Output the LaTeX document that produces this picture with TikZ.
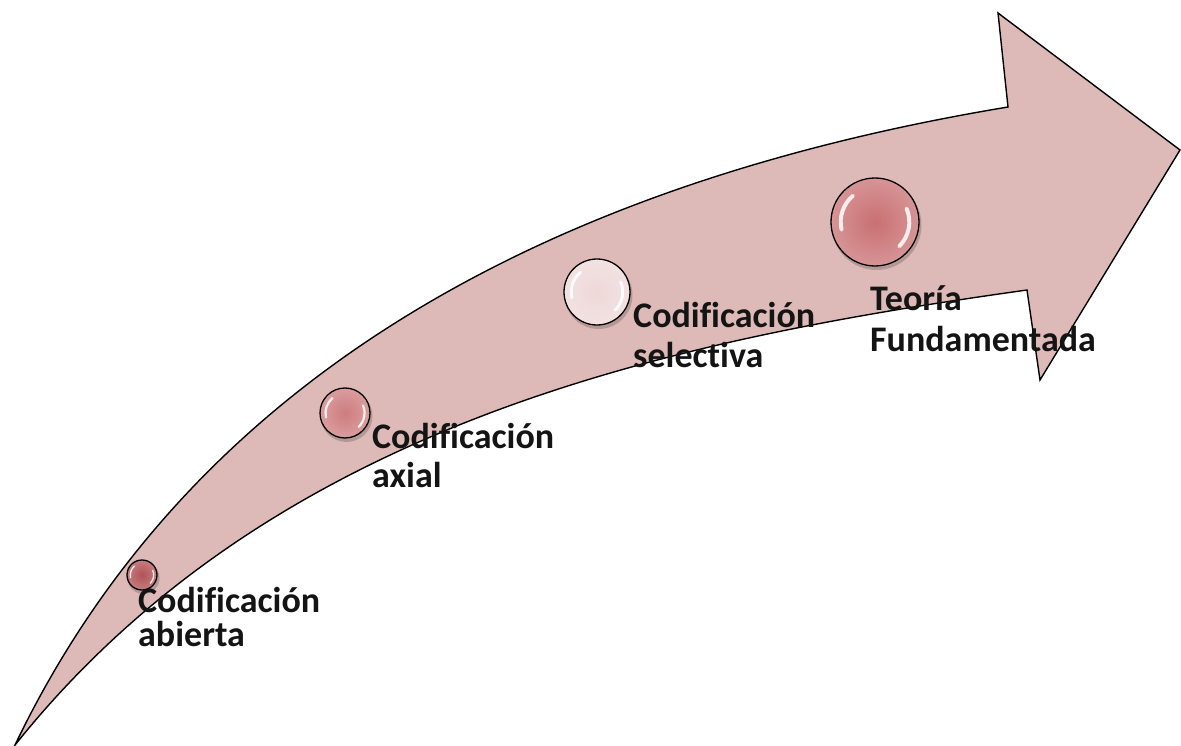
\documentclass[tikz,border=0pt]{standalone}
\usepackage{fontspec}
\setmainfont[Ligatures={NoCommon}]{Carlito}
\definecolor{arrowpink}{RGB}{221,185,183}
\definecolor{ballA}{RGB}{178,82,86}
\definecolor{ballB}{RGB}{206,124,126}
\definecolor{ballC}{RGB}{238,216,216}
\definecolor{ballD}{RGB}{201,112,114}
\begin{document}
\begin{tikzpicture}[x=1pt,y=-1pt,
  arrowbody/.style={fill=arrowpink, draw=black, line width=1.4pt, line join=miter},
  ball/.style={circle, draw=black, line width=1.3pt, inner sep=0pt},
  hl/.style={white, opacity=0.85, line cap=round},
  lbl/.style={anchor=base west, inner sep=0pt, font=\fontsize{36}{40}\selectfont\bfseries, text=black!92}
]
\useasboundingbox (0,0) rectangle (1181,746);
% arrow body
\path[arrowbody] (15,745) .. controls (190,380) and (544,184) .. (1008,107)
  -- (998,13) -- (1180,150) -- (1040,380) -- (1027,290)
  .. controls (677,339) and (275,420) .. (15,745) -- cycle;
% balls: name / x / y / radius / colour
\foreach \n/\cx/\cy/\r/\col in {b1/142/575/15/ballA, b2/345/413/25/ballB, b3/597/292/33/ballC, b4/875/222/44/ballD}{
  \fill[black, opacity=0.18] (\cx+1.5,\cy+3) circle[radius=\r*1pt+1pt];
  \node[ball, minimum size=2*\r*1pt, inner color=\col, outer color=\col!75!white] (\n) at (\cx,\cy) {};
  \draw[hl, line width=0.09*\r*1pt] (\n.center) ++(130:{0.78*\r*1pt}) arc[start angle=130, end angle=193, radius={0.78*\r*1pt}];
  \draw[hl, line width=0.09*\r*1pt] (\n.center) ++(-45:{0.78*\r*1pt}) arc[start angle=-45, end angle=23, radius={0.78*\r*1pt}];
}
% labels
\node[lbl] (l1a) at (138,612) {Codificación};
\node[lbl] (l1b) at (138,646) {abierta};
\node[lbl] (l2a) at (372,448) {Codificación};
\node[lbl] (l2b) at (372,487) {axial};
\node[lbl] (l3a) at (633,327) {Codificación};
\node[lbl] (l3b) at (633,367) {selectiva};
\node[lbl] (l4a) at (870,310) {Teoría};
\node[lbl] (l4b) at (870,351) {Fundamentada};
\end{tikzpicture}
\end{document}
